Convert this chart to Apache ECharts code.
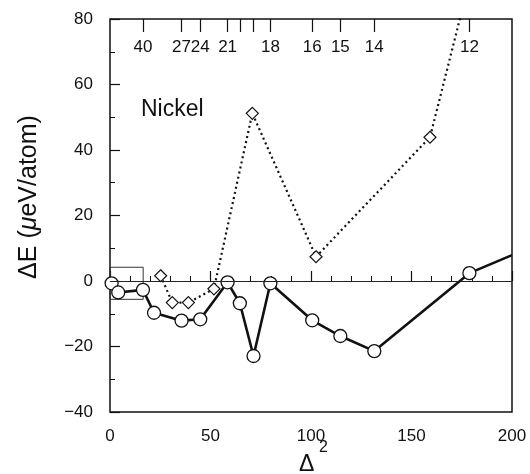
<!DOCTYPE html>
<html>
<head>
<meta charset="utf-8">
<script src="https://cdn.jsdelivr.net/npm/echarts@6/dist/echarts.min.js"></script>
<style>
  html, body { margin: 0; padding: 0; background: #fff; }
  #chart { width: 530px; height: 474px; }
</style>
</head>
<body>
<div id="chart"></div>
<script>
// Relaxed structures (open circles, solid line)
const circleX = [0.8, 4.1, 16.4, 21.9, 35.6, 44.9, 58.5, 64.6, 71.4, 79.8, 100.6, 114.6, 131.5, 178.8, 200];
const circleY = [-0.7, -3.5, -2.7, -9.7, -12.1, -11.7, -0.4, -6.8, -22.9, -0.7, -12.0, -16.8, -21.4, 2.4, 7.9];

// Unrelaxed structures (open diamonds, dotted line)
const diamondX = [25.2, 31.0, 39.0, 51.7, 70.8, 102.5, 159.2, 179.0];
const diamondY = [1.6, -6.6, -6.6, -2.4, 51.2, 7.4, 43.9, 92.0];

// Secondary (top) scale: tick positions in Δ² and their period labels
const topTickPos = [16.4, 35.6, 44.9, 58.5, 64.6, 71.4, 79.8, 100.6, 114.6, 131.5, 178.8];
const topTickLabel = ['40', '27', '24', '21', '', '', '18', '16', '15', '14', '12'];

// Outlined region near the origin
const boxX = [0, 16.5];
const boxY = [-5.6, 4.2];

const INK = '#111';
const FONT = 'Liberation Sans, Arial, sans-serif';

const chart = echarts.init(document.getElementById('chart'), null, { renderer: 'canvas' });

const circleData = circleX.map((x, i) => {
  const item = { value: [x, circleY[i]] };
  if (x >= 200) item.symbol = 'none';   // line runs on past the frame
  return item;
});
const diamondData = diamondX.map((x, i) => [x, diamondY[i]]);

chart.setOption({
  animation: false,
  backgroundColor: '#fff',
  textStyle: { fontFamily: FONT, color: INK },
  grid: {
    left: 110, right: 18, top: 19, bottom: 62,
    outerBoundsMode: 'none',
    containLabel: false,
    show: true, borderColor: INK, borderWidth: 1.5,
    backgroundColor: 'transparent'
  },
  xAxis: [
    {
      type: 'value', position: 'bottom', min: 0, max: 200, interval: 50,
      axisLine: { show: false },
      splitLine: { show: false },
      axisTick: { inside: true, length: 10, lineStyle: { color: INK, width: 1.2 } },
      minorTick: { show: true, splitNumber: 5, length: 5, lineStyle: { color: INK, width: 1 } },
      axisLabel: { margin: 16, fontSize: 17, color: INK, fontFamily: FONT }
    },
    {
      type: 'value', position: 'top', min: 0, max: 200,
      axisLine: { show: false },
      splitLine: { show: false },
      axisTick: { inside: true, length: 13, customValues: topTickPos, lineStyle: { color: INK, width: 1.2 } },
      axisLabel: {
        inside: true, margin: 20, fontSize: 17, color: INK, fontFamily: FONT,
        customValues: topTickPos,
        formatter: (v) => {
          const i = topTickPos.indexOf(v);
          return i >= 0 ? topTickLabel[i] : '';
        }
      }
    }
  ],
  yAxis: {
    type: 'value', min: -40, max: 80, interval: 20,
    axisLine: { show: false },
    splitLine: { show: false },
    axisTick: { inside: true, length: 10, lineStyle: { color: INK, width: 1.2 } },
    minorTick: { show: true, splitNumber: 2, length: 5, lineStyle: { color: INK, width: 1 } },
    axisLabel: {
      margin: 17, fontSize: 17, color: INK, fontFamily: FONT,
      formatter: (v) => (v < 0 ? '\u2212' + (-v) : String(v))
    },
    name: '{n|ΔE (}{i|μ}{n|eV/atom)}',
    nameLocation: 'middle',
    nameGap: 68,
    nameTextStyle: {
      padding: [0, 0, 0, 37],
      rich: {
        n: { fontSize: 25, fontFamily: FONT, color: INK },
        i: { fontSize: 25, fontFamily: FONT, fontStyle: 'italic', color: INK }
      }
    }
  },
  graphic: [
    {
      type: 'text', left: 141, top: 98, silent: true,
      style: { text: 'Nickel', font: '23px ' + FONT, fill: INK }
    },
    // x-axis title: Δ with a raised 2
    {
      type: 'text', left: 299, top: 453, silent: true,
      style: { text: 'Δ', font: '23px ' + FONT, fill: INK }
    },
    {
      type: 'text', left: 319, top: 440, silent: true,
      style: { text: '2', font: '16px ' + FONT, fill: INK }
    }
  ],
  series: [
    {
      name: 'unrelaxed',
      type: 'line',
      xAxisIndex: 0,
      data: diamondData,
      clip: true,
      symbol: 'diamond',
      symbolSize: [12, 12],
      itemStyle: { color: '#fff', borderColor: INK, borderWidth: 1.2 },
      lineStyle: { color: INK, width: 2.2, type: [2, 3.2], cap: 'butt' },
      z: 2
    },
    {
      name: 'relaxed',
      type: 'line',
      xAxisIndex: 0,
      data: circleData,
      clip: true,
      symbol: 'circle',
      symbolSize: 13,
      itemStyle: { color: '#fff', borderColor: INK, borderWidth: 1.3 },
      lineStyle: { color: INK, width: 2.6 },
      z: 3,
      markLine: {
        silent: true, symbol: 'none', label: { show: false },
        lineStyle: { color: '#222', width: 1, type: 'solid' },
        data: [{ yAxis: 0 }]
      },
      markArea: {
        silent: true,
        itemStyle: { color: 'rgba(0,0,0,0)', borderColor: '#333', borderWidth: 1 },
        data: [[{ coord: [boxX[0], boxY[1]] }, { coord: [boxX[1], boxY[0]] }]]
      }
    }
  ]
});
</script>
</body>
</html>
